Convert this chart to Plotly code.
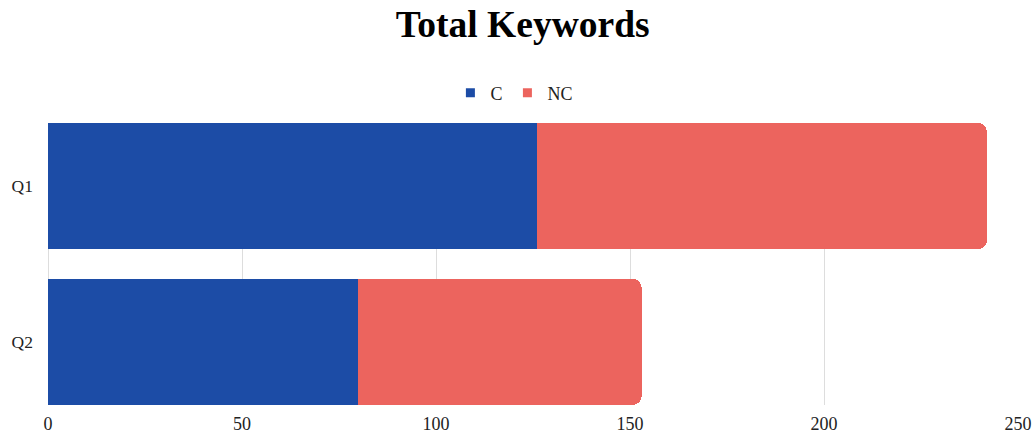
import plotly.graph_objects as go

categories = ["Q1", "Q2"]
c_values = [126, 80]
nc_values = [116, 73]
x_ticks = [0, 50, 100, 150, 200, 250]
series_names = ["C", "NC"]

BLUE = "#1c4ca6"
RED = "#ec645e"
FONT = "Liberation Serif, Times New Roman, serif"

fig = go.Figure()
fig.add_trace(go.Bar(y=categories, x=c_values, name=series_names[0], orientation="h",
                     marker=dict(color=BLUE, line=dict(width=0)), showlegend=False))
fig.add_trace(go.Bar(y=categories, x=nc_values, name=series_names[1], orientation="h",
                     marker=dict(color=RED, line=dict(width=0)), showlegend=False))
# legend entries with square markers
for nm, col in zip(series_names, [BLUE, RED]):
    fig.add_trace(go.Scatter(x=[None], y=[None], mode="markers", name=nm,
                             marker=dict(symbol="square", size=9, color=col)))

fig.update_layout(
    width=1035, height=435,
    barmode="stack", bargap=0.19, barcornerradius=9,
    margin=dict(l=48, r=17, t=123, b=30, autoexpand=False),
    paper_bgcolor="white", plot_bgcolor="white",
    font=dict(family=FONT, size=17, color="#222222"),
    title=dict(text="<b>Total Keywords</b>", x=0.505, xref="container", xanchor="center",
               y=1 - 24 / 435, yref="container", yanchor="middle",
               font=dict(family=FONT, size=37.5, color="black")),
    legend=dict(orientation="h", x=0.497, xanchor="center", xref="container",
                y=1 - 93 / 435, yref="container", yanchor="middle",
                font=dict(family=FONT, size=18, color="#222222"),
                itemwidth=30, traceorder="normal"),
    xaxis=dict(range=[0, 250], tickvals=x_ticks, showgrid=True, gridcolor="#dddddd",
               gridwidth=1, zeroline=True, zerolinecolor="#dddddd", zerolinewidth=1,
               showline=False, ticks="", automargin=False,
               ticklabelstandoff=6,
               tickfont=dict(family=FONT, size=18, color="#222222")),
    yaxis=dict(range=[1.405, -0.405], showgrid=False, zeroline=False, showline=False,
               ticks="", ticklabelstandoff=14, automargin=False,
               tickfont=dict(family=FONT, size=17.5, color="#222222")),
    hovermode=False,
)
fig.write_html("out.html")
